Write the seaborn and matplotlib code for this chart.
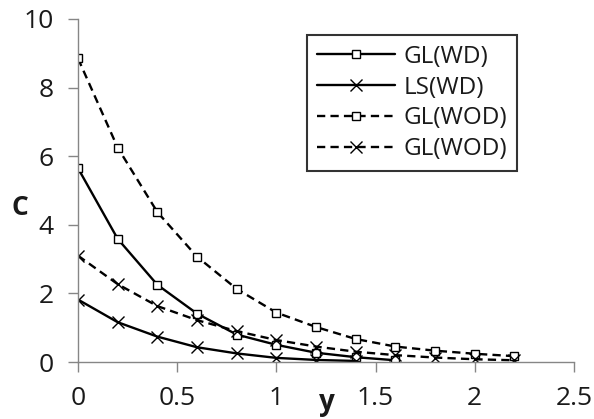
import matplotlib
matplotlib.use("Agg")
import matplotlib.pyplot as plt
import matplotlib.transforms as mtransforms
import seaborn as sns
import pandas as pd

# Concentration profiles C(y)
y_gl_wd = [0.0, 0.2, 0.4, 0.6, 0.8, 1.0, 1.2, 1.4, 1.6]
c_gl_wd = [5.65, 3.59, 2.25, 1.41, 0.80, 0.50, 0.27, 0.14, 0.05]

y_ls_wd = [0.0, 0.2, 0.4, 0.6, 0.8, 1.0, 1.2, 1.4]
c_ls_wd = [1.82, 1.16, 0.74, 0.43, 0.25, 0.12, 0.06, 0.03]

y_gl_wod = [0.0, 0.2, 0.4, 0.6, 0.8, 1.0, 1.2, 1.4, 1.6, 1.8, 2.0, 2.2]
c_gl_wod = [8.85, 6.25, 4.37, 3.07, 2.13, 1.44, 1.02, 0.67, 0.45, 0.33, 0.24, 0.17]

y_gl_wod2 = [0.0, 0.2, 0.4, 0.6, 0.8, 1.0, 1.2, 1.4, 1.6, 1.8, 2.0, 2.2]
c_gl_wod2 = [3.10, 2.27, 1.63, 1.22, 0.90, 0.64, 0.45, 0.30, 0.20, 0.13, 0.08, 0.05]

series_labels = ["GL(WD)", "LS(WD)", "GL(WOD)", "GL(WOD)"]
x_ticks = [0, 0.5, 1, 1.5, 2, 2.5]
x_tick_labels = ["0", "0.5", "1", "1.5", "2", "2.5"]
y_ticks = [0, 2, 4, 6, 8, 10]

sns.set_theme(style="white")
plt.rcParams["font.family"] = ["Open Sans", "DejaVu Sans"]

fig = plt.figure(figsize=(5.94, 4.19), dpi=100)
ax = fig.add_axes([78 / 594, 1 - 362 / 419, 496 / 594, 343 / 419])

dash = (0, (3.5, 2.2))
styles = [
    (y_gl_wd, c_gl_wd, "-", "s"),
    (y_ls_wd, c_ls_wd, "-", "x"),
    (y_gl_wod, c_gl_wod, dash, "s"),
    (y_gl_wod2, c_gl_wod2, dash, "x"),
]

handles = []
for (xs, cs, ls, mk), lab in zip(styles, series_labels):
    df = pd.DataFrame({"y": xs, "C": cs})
    sns.lineplot(data=df, x="y", y="C", ax=ax, color="black", linewidth=1.7,
                 linestyle=ls, marker=mk, markersize=8 if mk == "x" else 6,
                 markerfacecolor="white" if mk == "s" else "black",
                 markeredgecolor="black", markeredgewidth=1.0,
                 label=lab, legend=False)
    handles.append(ax.lines[-1])

ax.set_xlim(0, 2.5)
ax.set_ylim(0, 10)
ax.set_xticks(x_ticks)
ax.set_xticklabels(x_tick_labels)
ax.set_yticks(y_ticks)
ax.set_xlabel("")
ax.set_ylabel("")

for side in ["top", "right"]:
    ax.spines[side].set_visible(False)
for side in ["left", "bottom"]:
    ax.spines[side].set_color("#868686")
    ax.spines[side].set_linewidth(1.0)

ax.tick_params(axis="both", which="major", direction="out", length=7.5,
               width=1.0, color="#868686", labelsize=19, labelcolor="#1a1a1a",
               left=True, bottom=True)
ax.tick_params(axis="y", pad=10)
ax.tick_params(axis="x", pad=10)

ax.text(-0.117, 4.5, "C", transform=mtransforms.blended_transform_factory(ax.transAxes, ax.transData),
        ha="center", va="center", fontsize=19, fontweight="bold", color="#1a1a1a")
ax.text(1.255, -0.118, "y", transform=mtransforms.blended_transform_factory(ax.transData, ax.transAxes),
        ha="center", va="center", fontsize=20, fontweight="bold", color="#1a1a1a")

leg = ax.legend(handles=handles, labels=series_labels, loc="upper left",
                bbox_to_anchor=(0.462, 0.953), borderaxespad=0, fontsize=17.5,
                handlelength=3.2, handletextpad=0.38, labelspacing=0.28,
                fancybox=False, frameon=True, borderpad=0.4)
leg.get_frame().set_edgecolor("black")
leg.get_frame().set_linewidth(1.5)
for t in leg.get_texts():
    t.set_color("#1a1a1a")

fig.savefig("out.png", dpi=100)
